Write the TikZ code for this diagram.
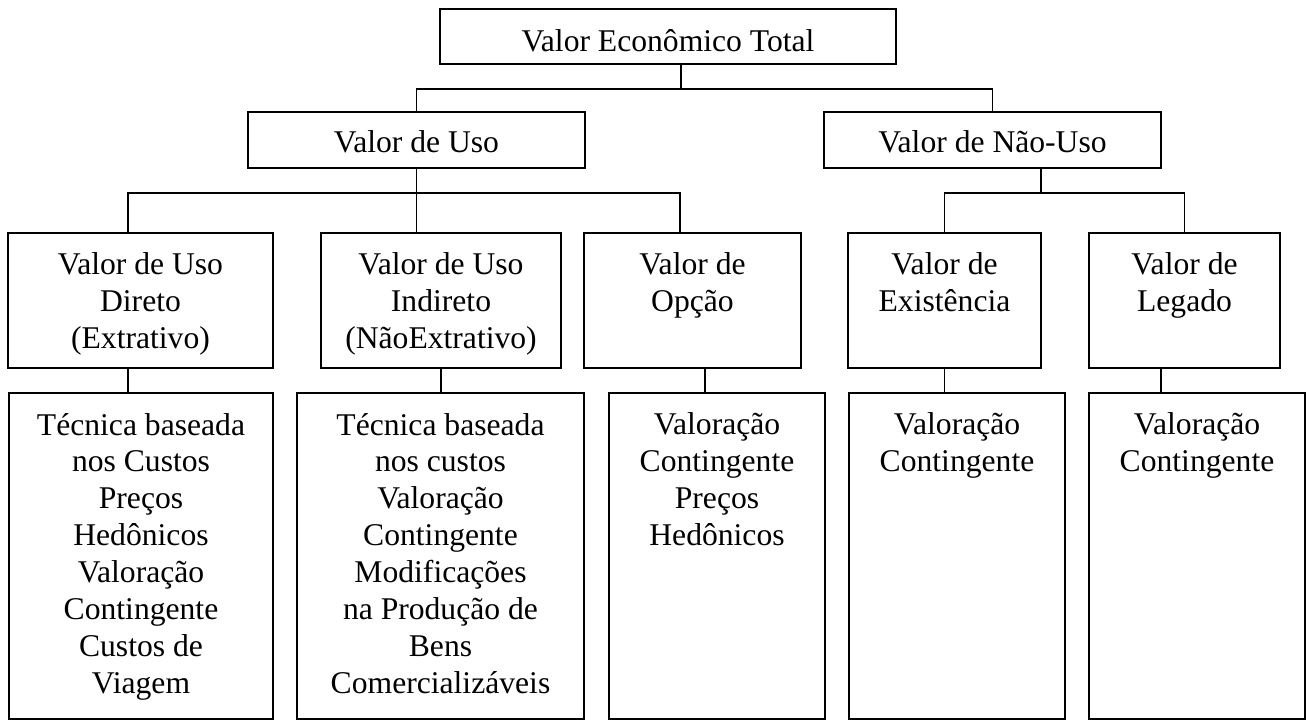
\documentclass[tikz,border=0pt]{standalone}
\usepackage{fontspec}
\setmainfont{Liberation Serif}
\usetikzlibrary{positioning}

\tikzset{
  box/.style={draw, line width=0.85pt, inner sep=0pt},
  boxtext/.style={align=center, inner sep=0pt},
}

\begin{document}
\begin{tikzpicture}[x=0.02cm, y=-0.02cm, line width=0.85pt,
    every node/.style={font=\fontsize{18}{21}\selectfont}]
  \useasboundingbox (0,0) rectangle (1310,721);

  \node at (668,36.5) [box,text height=17.5pt,minimum width=9.12cm,minimum height=1.10cm] (total) {Valor Econômico Total};

  \node at (416.5,140) [box,text height=14.5pt,minimum width=6.74cm,minimum height=1.12cm] (uso) {Valor de Uso};
  \node at (992.5,140) [box,text height=14.5pt,minimum width=6.74cm,minimum height=1.12cm] (naouso) {Valor de Não-Uso};

  % tipos de valor
  \node at (140.5,300.5) [box,minimum width=5.30cm,minimum height=2.70cm] (direto) {};
  \node at (441,300.5) [box,minimum width=4.80cm,minimum height=2.70cm] (indireto) {};
  \node at (692.5,300.5) [box,minimum width=4.34cm,minimum height=2.70cm] (opcao) {};
  \node at (944.5,300.5) [box,minimum width=3.86cm,minimum height=2.70cm] (existencia) {};
  \node at (1184.5,300.5) [box,minimum width=3.82cm,minimum height=2.70cm] (legado) {};

  \node [boxtext,below=0.39cm of direto.north] (diretotxt) {Valor de Uso\\Direto\\(Extrativo)};
  \node [boxtext,below=0.39cm of indireto.north] (indiretotxt) {Valor de Uso\\Indireto\\(NãoExtrativo)};
  \node [boxtext,below=0.39cm of opcao.north] (opcaotxt) {Valor de\\Opção};
  \node [boxtext,below=0.39cm of existencia.north] (existenciatxt) {Valor de\\Existência};
  \node [boxtext,below=0.39cm of legado.north] (legadotxt) {Valor de\\Legado};

  % tecnicas
  \node at (141,556) [box,minimum width=5.28cm,minimum height=6.52cm] (tdireto) {};
  \node at (440.5,556) [box,minimum width=5.74cm,minimum height=6.52cm] (tindireto) {};
  \node at (717,556) [box,minimum width=4.32cm,minimum height=6.52cm] (topcao) {};
  \node at (957,556) [box,minimum width=4.32cm,minimum height=6.52cm] (texist) {};
  \node at (1197,556) [box,minimum width=4.32cm,minimum height=6.52cm] (tlegado) {};

  \node [boxtext,below=0.4cm of tdireto.north] (tdiretotxt) {Técnica baseada\\nos Custos\\Preços\\Hedônicos\\Valoração\\Contingente\\Custos de\\Viagem};
  \node [boxtext,below=0.4cm of tindireto.north] (tindiretotxt) {Técnica baseada\\nos custos\\Valoração\\Contingente\\Modificações\\na Produção de\\Bens\\Comercializáveis};
  \node [boxtext,below=0.4cm of topcao.north] (topcaotxt) {Valoração\\Contingente\\Preços\\Hedônicos};
  \node [boxtext,below=0.4cm of texist.north] (texisttxt) {Valoração\\Contingente};
  \node [boxtext,below=0.4cm of tlegado.north] (tlegadotxt) {Valoração\\Contingente};

  \coordinate (jtop) at (681,89);
  \coordinate (juso) at (416.5,193);
  \coordinate (jnao) at (1041,193);

  \draw (total.south -| jtop) -- (jtop);
  \draw (uso.north) |- (jtop) -| (naouso.north);

  \draw (uso.south) -- (uso.south |- indireto.north);
  \draw ([xshift=-0.25cm]direto.north) |- (juso) -| ([xshift=-0.25cm]opcao.north);

  \draw (naouso.south -| jnao) -- (jnao);
  \draw (existencia.north) |- (jnao) -| (legado.north);

  \draw ([xshift=-0.25cm]direto.south) -- ([xshift=-0.25cm]direto.south |- tdireto.north);
  \draw (indireto.south) -- (indireto.south |- tindireto.north);
  \draw ([xshift=0.25cm]opcao.south) -- ([xshift=0.25cm]opcao.south |- topcao.north);
  \draw (existencia.south) -- (existencia.south |- texist.north);
  \draw ([xshift=-0.47cm]legado.south) -- ([xshift=-0.47cm]legado.south |- tlegado.north);
\end{tikzpicture}
\end{document}
